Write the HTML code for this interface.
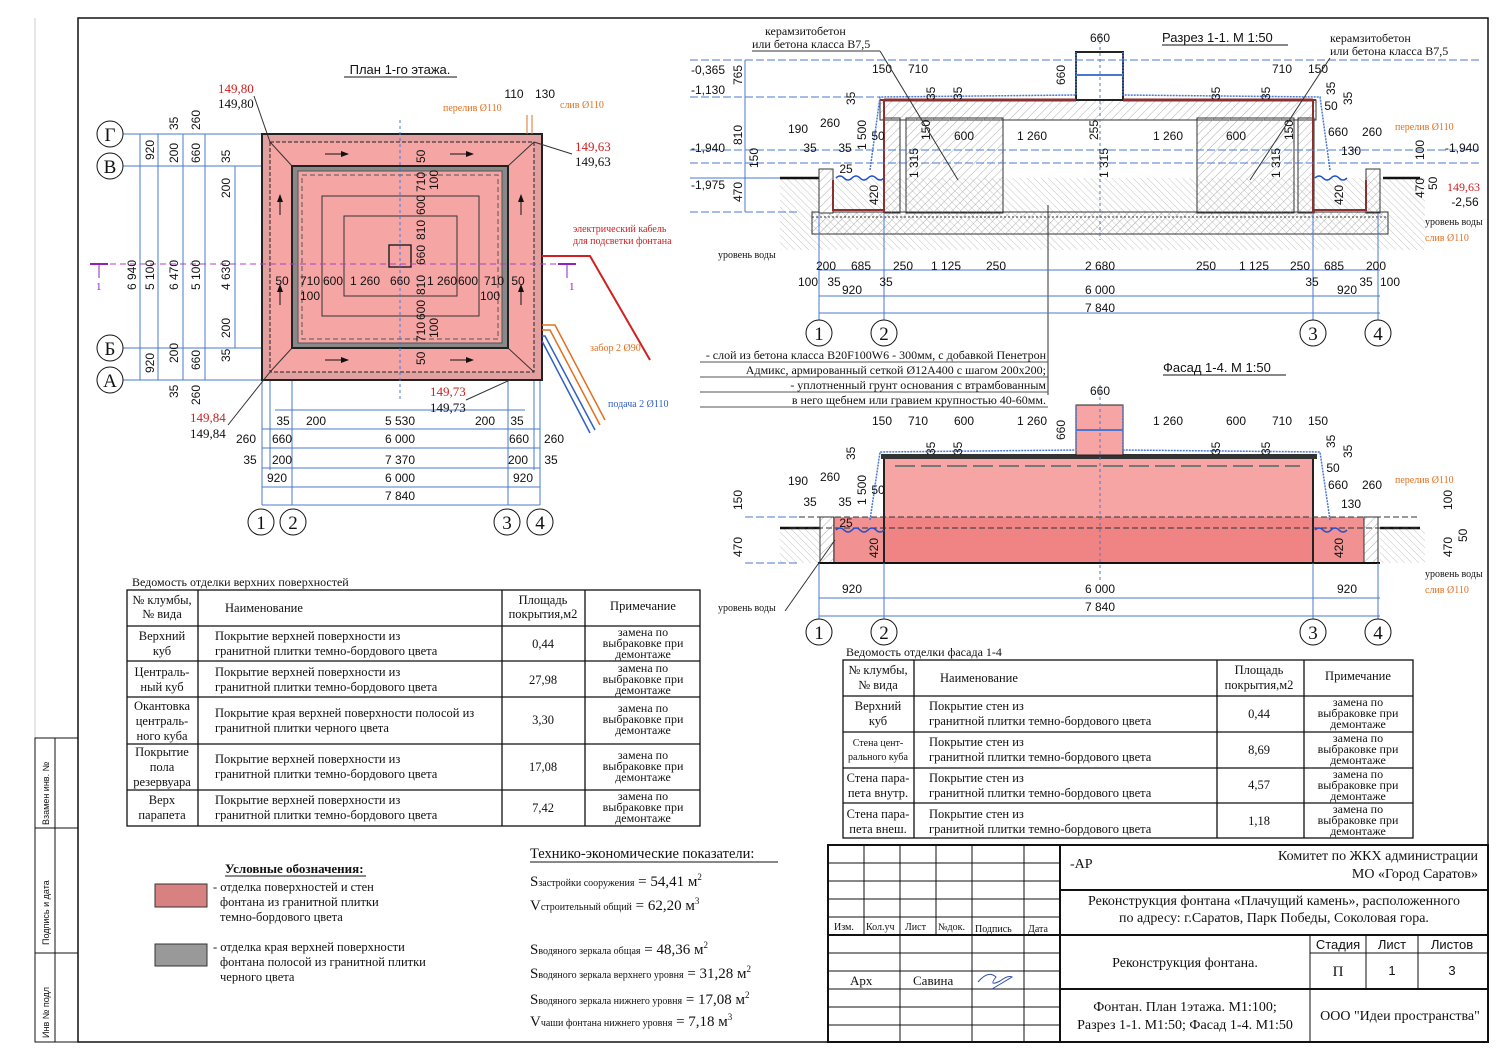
<!DOCTYPE html>
<html><head><meta charset="utf-8"><style>
html,body{margin:0;padding:0;background:#fff}
svg{display:block}
text{font-family:"Liberation Serif",serif;fill:#111}
.s,.s text{font-family:"Liberation Sans",sans-serif}
.d,.d text{font-family:"Liberation Sans",sans-serif;font-size:12px;fill:#111}
.b{stroke:#4a78d0;stroke-width:1;fill:none}
.k{stroke:#111;fill:none}
</style></head><body>
<svg width="1500" height="1060" viewBox="0 0 1500 1060" xmlns="http://www.w3.org/2000/svg">
<defs>
<marker id="ar" markerWidth="8" markerHeight="6" refX="7" refY="3" orient="auto"><path d="M0,0 L8,3 L0,6 z" fill="#111"/></marker>
<pattern id="hat" width="6" height="6" patternUnits="userSpaceOnUse" patternTransform="rotate(45)"><line x1="0" y1="0" x2="0" y2="6" stroke="#999" stroke-width="0.8"/></pattern>
<pattern id="hat2" width="5" height="5" patternUnits="userSpaceOnUse" patternTransform="rotate(-45)"><line x1="0" y1="0" x2="0" y2="5" stroke="#aaa" stroke-width="0.7"/></pattern>
</defs>
<!-- frame -->
<rect x="78" y="18" width="1410" height="1024" fill="none" stroke="#111" stroke-width="1.5"/>
<line x1="35" y1="18" x2="35" y2="738" stroke="#ccc"/>
<rect x="35" y="738" width="43" height="304" fill="none" stroke="#111"/>
<line x1="55" y1="738" x2="55" y2="1042" stroke="#111"/>
<line x1="35" y1="828" x2="78" y2="828" stroke="#111"/>
<line x1="35" y1="953" x2="78" y2="953" stroke="#111"/>
<text transform="translate(49,825) rotate(-90)" class="s" font-size="9">Взамен инв. №</text>
<text transform="translate(49,945) rotate(-90)" class="s" font-size="9">Подпись и дата</text>
<text transform="translate(49,1038) rotate(-90)" class="s" font-size="9">Инв № подл</text>

<!-- ============ PLAN ============ -->
<text x="400" y="74" font-size="13" text-anchor="middle" class="s">План 1-го этажа.</text>
<line x1="344" y1="77" x2="457" y2="77" stroke="#111"/>
<g class="b">
<line x1="110" y1="134" x2="262" y2="134"/><line x1="110" y1="166" x2="292" y2="166"/>
<line x1="110" y1="348" x2="292" y2="348"/><line x1="110" y1="380" x2="262" y2="380"/>
<line x1="262" y1="380" x2="262" y2="505"/><line x1="292" y1="348" x2="292" y2="505"/>
<line x1="508" y1="348" x2="508" y2="505"/><line x1="540" y1="380" x2="540" y2="505"/>
<line x1="270" y1="380" x2="270" y2="470"/><line x1="534" y1="380" x2="534" y2="470"/>
<line x1="140" y1="134" x2="140" y2="380"/><line x1="158" y1="134" x2="158" y2="380"/>
<line x1="183" y1="134" x2="183" y2="380"/><line x1="205" y1="134" x2="205" y2="380"/>
<line x1="235" y1="166" x2="235" y2="348"/>
<line x1="262" y1="429" x2="540" y2="429"/><line x1="262" y1="448" x2="540" y2="448"/>
<line x1="262" y1="468" x2="540" y2="468"/><line x1="262" y1="487" x2="540" y2="487"/>
<line x1="262" y1="505" x2="540" y2="505"/><line x1="275" y1="410" x2="525" y2="410"/>
</g>
<rect x="262" y="134" width="280" height="246" fill="#e3a0a0" stroke="#222" stroke-width="2"/>
<rect x="270" y="142" width="264" height="230" fill="#f6a5a5" stroke="#222" stroke-dasharray="4,2"/>
<line x1="270" y1="142" x2="292" y2="166" stroke="#333"/><line x1="534" y1="142" x2="508" y2="166" stroke="#333"/>
<line x1="270" y1="372" x2="292" y2="348" stroke="#333"/><line x1="534" y1="372" x2="508" y2="348" stroke="#333"/>
<rect x="292" y="166" width="216" height="182" fill="#888" stroke="#222" stroke-width="2"/>
<rect x="298" y="171" width="204" height="172" fill="#f6a5a5" stroke="#555"/>
<rect x="302" y="175" width="196" height="164" fill="none" stroke="#555" stroke-dasharray="5,3"/>
<rect x="322" y="196" width="157" height="120" fill="none" stroke="#333"/>
<rect x="344" y="216" width="113" height="80" fill="none" stroke="#333"/>
<rect x="389" y="245" width="22" height="22" fill="none" stroke="#111" stroke-width="1.3"/>
<line x1="400" y1="120" x2="400" y2="400" stroke="#4a78d0" stroke-dasharray="3,3"/>
<line x1="90" y1="264" x2="580" y2="264" stroke="#b040c0" stroke-dasharray="6,4"/>
<g stroke="#111" marker-end="url(#ar)"><line x1="325" y1="154" x2="348" y2="154"/><line x1="450" y1="154" x2="473" y2="154"/>
<line x1="325" y1="360" x2="348" y2="360"/><line x1="450" y1="360" x2="473" y2="360"/>
<line x1="280" y1="215" x2="280" y2="195"/><line x1="280" y1="305" x2="280" y2="285"/>
<line x1="521" y1="215" x2="521" y2="195"/><line x1="521" y1="305" x2="521" y2="285"/></g>
<g stroke="#9020c0" stroke-width="2"><line x1="90" y1="264" x2="108" y2="264"/><line x1="558" y1="264" x2="576" y2="264"/>
<line x1="99" y1="264" x2="99" y2="278" stroke-width="1"/><line x1="567" y1="264" x2="567" y2="278" stroke-width="1"/></g>
<text x="96" y="290" font-size="11" style="fill:#9020c0">1</text>
<text x="569" y="290" font-size="11" style="fill:#9020c0">1</text>
<g fill="#fff" stroke="#111">
<circle cx="110" cy="134" r="13"/><circle cx="110" cy="166" r="13"/><circle cx="110" cy="348" r="13"/><circle cx="110" cy="380" r="13"/>
<circle cx="261" cy="522" r="13"/><circle cx="293" cy="522" r="13"/><circle cx="507" cy="522" r="13"/><circle cx="540" cy="522" r="13"/></g>
<g font-size="19" text-anchor="middle"><text x="110" y="141">Г</text><text x="110" y="173">В</text><text x="110" y="355">Б</text><text x="110" y="387">А</text>
<text x="261" y="529">1</text><text x="293" y="529">2</text><text x="507" y="529">3</text><text x="540" y="529">4</text></g>
<g class="d" text-anchor="middle">
<text x="283" y="425">35</text><text x="316" y="425">200</text><text x="400" y="425">5 530</text><text x="485" y="425">200</text><text x="517" y="425">35</text>
<text x="246" y="443">260</text><text x="282" y="443">660</text><text x="400" y="443">6 000</text><text x="519" y="443">660</text><text x="554" y="443">260</text>
<text x="250" y="464">35</text><text x="282" y="464">200</text><text x="400" y="464">7 370</text><text x="518" y="464">200</text><text x="551" y="464">35</text>
<text x="277" y="482">920</text><text x="400" y="482">6 000</text><text x="523" y="482">920</text>
<text x="400" y="500">7 840</text>
<text x="282" y="285">50</text><text x="310" y="285">710</text><text x="333" y="285">600</text><text x="365" y="285">1 260</text><text x="400" y="285">660</text><text x="442" y="285">1 260</text><text x="468" y="285">600</text><text x="494" y="285">710</text><text x="518" y="285">50</text>
<text x="310" y="300">100</text><text x="490" y="300">100</text>
<text x="514" y="98">110</text><text x="545" y="98">130</text>
</g>
<g class="d">
<text transform="translate(136,290) rotate(-90)">6 940</text><text transform="translate(154,290) rotate(-90)">5 100</text>
<text transform="translate(178,290) rotate(-90)">6 470</text><text transform="translate(200,290) rotate(-90)">5 100</text>
<text transform="translate(230,290) rotate(-90)">4 630</text>
<text transform="translate(154,160) rotate(-90)">920</text><text transform="translate(154,373) rotate(-90)">920</text>
<text transform="translate(178,130) rotate(-90)">35</text><text transform="translate(178,163) rotate(-90)">200</text>
<text transform="translate(178,363) rotate(-90)">200</text><text transform="translate(178,398) rotate(-90)">35</text>
<text transform="translate(200,130) rotate(-90)">260</text><text transform="translate(200,163) rotate(-90)">660</text>
<text transform="translate(200,370) rotate(-90)">660</text><text transform="translate(200,405) rotate(-90)">260</text>
<text transform="translate(230,163) rotate(-90)">35</text><text transform="translate(230,198) rotate(-90)">200</text>
<text transform="translate(230,338) rotate(-90)">200</text><text transform="translate(230,362) rotate(-90)">35</text>
<text transform="translate(425,163) rotate(-90)">50</text><text transform="translate(425,192) rotate(-90)">710</text><text transform="translate(438,190) rotate(-90)">100</text>
<text transform="translate(425,215) rotate(-90)">600</text><text transform="translate(425,240) rotate(-90)">810</text><text transform="translate(425,265) rotate(-90)">660</text>
<text transform="translate(425,295) rotate(-90)">810</text><text transform="translate(425,320) rotate(-90)">600</text><text transform="translate(425,342) rotate(-90)">710</text><text transform="translate(438,338) rotate(-90)">100</text><text transform="translate(425,365) rotate(-90)">50</text>
</g>
<g font-size="13"><text x="218" y="93" style="fill:#d02020">149,80</text><text x="218" y="108">149,80</text>
<text x="575" y="151" style="fill:#d02020">149,63</text><text x="575" y="166">149,63</text>
<text x="430" y="396" style="fill:#d02020">149,73</text><text x="430" y="412">149,73</text>
<text x="190" y="422" style="fill:#d02020">149,84</text><text x="190" y="438">149,84</text></g>
<g stroke="#333" fill="none"><line x1="254" y1="96" x2="270" y2="142"/><line x1="572" y1="154" x2="534" y2="142"/><line x1="466" y1="400" x2="510" y2="380"/><line x1="228" y1="425" x2="270" y2="372"/></g>
<g font-size="10"><text x="443" y="111" style="fill:#e07020">перелив Ø110</text><text x="560" y="108" style="fill:#e07020">слив Ø110</text>
<text x="573" y="232" style="fill:#d02020">электрический кабель</text><text x="573" y="244" style="fill:#d02020">для подсветки фонтана</text>
<text x="590" y="351" style="fill:#e07020">забор 2 Ø90</text><text x="608" y="407" style="fill:#3060c0">подача 2 Ø110</text></g>
<polyline points="542,256 590,256 650,360" stroke="#d02020" stroke-width="2" fill="none"/>
<g fill="none" stroke-width="1.5"><polyline points="542,325 555,325 605,420" stroke="#e07020"/><polyline points="542,330 550,330 600,425" stroke="#e07020"/>
<polyline points="542,336 545,336 595,430" stroke="#3060c0"/><polyline points="542,341 542,341 590,433" stroke="#3060c0"/></g>
<line x1="527" y1="115" x2="527" y2="134" stroke="#e07020"/><line x1="532" y1="115" x2="532" y2="134" stroke="#e07020"/>

<!-- ============ TABLE 1 ============ -->
<text x="132" y="586" font-size="12">Ведомость отделки верхних поверхностей</text>
<g stroke="#111" stroke-width="1.3" fill="none">
<rect x="127" y="590" width="573" height="236"/>
<line x1="127" y1="626" x2="700" y2="626"/><line x1="127" y1="661" x2="700" y2="661"/><line x1="127" y1="697" x2="700" y2="697"/><line x1="127" y1="744" x2="700" y2="744"/><line x1="127" y1="790" x2="700" y2="790"/>
<line x1="198" y1="590" x2="198" y2="826"/><line x1="502" y1="590" x2="502" y2="826"/><line x1="585" y1="590" x2="585" y2="826"/></g>
<g font-size="12.5">
<text x="162" y="604" text-anchor="middle">№ клумбы,</text><text x="162" y="618" text-anchor="middle">№ вида</text>
<text x="225" y="612">Наименование</text><text x="543" y="604" text-anchor="middle">Площадь</text><text x="543" y="618" text-anchor="middle">покрытия,м2</text><text x="643" y="610" text-anchor="middle">Примечание</text>
<text x="162" y="640" text-anchor="middle">Верхний</text><text x="162" y="655" text-anchor="middle">куб</text>
<text x="215" y="640">Покрытие верхней поверхности из</text><text x="215" y="655">гранитной плитки темно-бордового цвета</text><text x="543" y="648" text-anchor="middle">0,44</text>
<text x="162" y="676" text-anchor="middle">Централь-</text><text x="162" y="691" text-anchor="middle">ный куб</text>
<text x="215" y="676">Покрытие верхней поверхности из</text><text x="215" y="691">гранитной плитки темно-бордового цвета</text><text x="543" y="684" text-anchor="middle">27,98</text>
<text x="162" y="710" text-anchor="middle">Окантовка</text><text x="162" y="725" text-anchor="middle">централь-</text><text x="162" y="740" text-anchor="middle">ного куба</text>
<text x="215" y="717">Покрытие края верхней поверхности полосой из</text><text x="215" y="732">гранитной плитки черного цвета</text><text x="543" y="724" text-anchor="middle">3,30</text>
<text x="162" y="756" text-anchor="middle">Покрытие</text><text x="162" y="771" text-anchor="middle">пола</text><text x="162" y="786" text-anchor="middle">резервуара</text>
<text x="215" y="763">Покрытие верхней поверхности из</text><text x="215" y="778">гранитной плитки темно-бордового цвета</text><text x="543" y="771" text-anchor="middle">17,08</text>
<text x="162" y="804" text-anchor="middle">Верх</text><text x="162" y="819" text-anchor="middle">парапета</text>
<text x="215" y="804">Покрытие верхней поверхности из</text><text x="215" y="819">гранитной плитки темно-бордового цвета</text><text x="543" y="812" text-anchor="middle">7,42</text>
</g>
<g font-size="12" text-anchor="middle">
<text x="643" y="636">замена по</text><text x="643" y="647">выбраковке при</text><text x="643" y="658">демонтаже</text>
<text x="643" y="672">замена по</text><text x="643" y="683">выбраковке при</text><text x="643" y="694">демонтаже</text>
<text x="643" y="712">замена по</text><text x="643" y="723">выбраковке при</text><text x="643" y="734">демонтаже</text>
<text x="643" y="759">замена по</text><text x="643" y="770">выбраковке при</text><text x="643" y="781">демонтаже</text>
<text x="643" y="800">замена по</text><text x="643" y="811">выбраковке при</text><text x="643" y="822">демонтаже</text>
</g>

<!-- legend -->
<text x="225" y="873" font-size="13" font-weight="bold">Условные обозначения:</text>
<line x1="225" y1="876" x2="366" y2="876" stroke="#111"/>
<rect x="155" y="884" width="52" height="23" fill="#d98080" stroke="#333"/>
<rect x="155" y="944" width="52" height="22" fill="#999" stroke="#333"/>
<g font-size="12.5"><text x="213" y="891">- отделка поверхностей и стен</text><text x="220" y="906">фонтана из гранитной плитки</text><text x="220" y="921">темно-бордового цвета</text>
<text x="213" y="951">- отделка края верхней поверхности</text><text x="220" y="966">фонтана полосой из гранитной плитки</text><text x="220" y="981">черного цвета</text></g>

<!-- TEP -->
<text x="530" y="858" font-size="14.5">Технико-экономические показатели:</text>
<line x1="530" y1="862" x2="778" y2="862" stroke="#111"/>
<g font-size="15">
<text x="530" y="886">S<tspan font-size="10">застройки сооружения</tspan> = 54,41 м<tspan font-size="9" dy="-6">2</tspan></text>
<text x="530" y="910">V<tspan font-size="10">строительный общий</tspan> = 62,20 м<tspan font-size="9" dy="-6">3</tspan></text>
<text x="530" y="954">S<tspan font-size="10">водяного зеркала общая</tspan> = 48,36 м<tspan font-size="9" dy="-6">2</tspan></text>
<text x="530" y="978">S<tspan font-size="10">водяного зеркала верхнего уровня</tspan> = 31,28 м<tspan font-size="9" dy="-6">2</tspan></text>
<text x="530" y="1004">S<tspan font-size="10">водяного зеркала нижнего уровня</tspan> = 17,08 м<tspan font-size="9" dy="-6">2</tspan></text>
<text x="530" y="1026">V<tspan font-size="10">чаши фонтана нижнего уровня</tspan> = 7,18 м<tspan font-size="9" dy="-6">3</tspan></text>
</g>

<!-- ============ SECTION 1-1 ============ -->
<text x="1162" y="42" font-size="13" class="s">Разрез 1-1. М 1:50</text><line x1="1162" y1="45" x2="1288" y2="45" stroke="#111"/>
<rect x="780" y="178" width="645" height="72" fill="url(#hat2)"/>
<line x1="780" y1="178" x2="820" y2="178" stroke="#111" stroke-width="2.5"/><line x1="1383" y1="178" x2="1420" y2="178" stroke="#111" stroke-width="2.5"/>
<rect x="812" y="212" width="576" height="22" fill="url(#hat)" stroke="#333"/>
<line x1="812" y1="217" x2="1388" y2="217" stroke="#333" stroke-dasharray="2,2"/>
<rect x="819" y="169" width="14" height="44" fill="#fff" stroke="#333"/><rect x="819" y="169" width="14" height="44" fill="url(#hat)"/>
<rect x="1366" y="169" width="14" height="44" fill="url(#hat)" stroke="#333"/>
<polyline points="833,180 833,210 884,210" fill="none" stroke="#8b3030" stroke-width="2"/>
<polyline points="1366,180 1366,210 1313,210" fill="none" stroke="#8b3030" stroke-width="2"/>
<rect x="880" y="100" width="436" height="20" fill="url(#hat)" stroke="#333"/>
<rect x="884" y="118" width="16" height="95" fill="url(#hat)" stroke="#333"/>
<rect x="1298" y="118" width="16" height="95" fill="url(#hat)" stroke="#333"/>
<rect x="906" y="118" width="97" height="95" fill="url(#hat)" stroke="#333"/>
<rect x="1197" y="118" width="97" height="95" fill="url(#hat)" stroke="#333"/>
<rect x="1076" y="52" width="47" height="48" fill="#fff" stroke="#222" stroke-width="2"/>
<line x1="1076" y1="75" x2="1123" y2="75" stroke="#4a78d0" stroke-width="2"/>
<polyline points="880,100 884,100 884,213" fill="none" stroke="#8b3030" stroke-width="2"/>
<polyline points="1316,100 1313,100 1313,213" fill="none" stroke="#8b3030" stroke-width="2"/>
<line x1="884" y1="100" x2="1076" y2="100" stroke="#8b3030" stroke-width="3"/><line x1="1123" y1="100" x2="1313" y2="100" stroke="#8b3030" stroke-width="3"/>
<polyline points="870,170 880,97 1076,95 1076,52" fill="none" stroke="#4a78d0" stroke-width="1.5" stroke-dasharray="2,1"/>
<polyline points="1330,170 1320,97 1123,95 1123,52" fill="none" stroke="#4a78d0" stroke-width="1.5" stroke-dasharray="2,1"/>
<path d="M836,178 q4,-4 8,0 t8,0 t8,0 t8,0 t8,0 t8,0" fill="none" stroke="#2050d0" stroke-width="1.5"/>
<path d="M1315,178 q4,-4 8,0 t8,0 t8,0 t8,0" fill="none" stroke="#2050d0" stroke-width="1.5"/>
<line x1="1100" y1="35" x2="1100" y2="240" stroke="#4a78d0" stroke-dasharray="3,3"/>
<line x1="1048" y1="205" x2="1048" y2="395" stroke="#333"/>
<g class="b"><line x1="690" y1="60" x2="1480" y2="60" stroke-dasharray="8,3"/><line x1="690" y1="97" x2="880" y2="97" stroke-dasharray="8,3"/>
<line x1="690" y1="150" x2="1480" y2="150" stroke-dasharray="8,3"/><line x1="690" y1="163" x2="1480" y2="163" stroke-dasharray="8,3"/>
<line x1="690" y1="178" x2="780" y2="178"/><line x1="690" y1="212" x2="800" y2="212" stroke-dasharray="8,3"/>
<line x1="745" y1="60" x2="745" y2="212"/>
<line x1="819" y1="270" x2="1380" y2="270"/><line x1="819" y1="296" x2="1380" y2="296"/><line x1="819" y1="313" x2="1380" y2="313"/>
<line x1="819" y1="213" x2="819" y2="320"/><line x1="884" y1="213" x2="884" y2="320"/><line x1="1313" y1="213" x2="1313" y2="320"/><line x1="1378" y1="213" x2="1378" y2="320"/></g>
<g class="d" text-anchor="middle">
<text x="1100" y="42">660</text><text x="882" y="73">150</text><text x="918" y="73">710</text><text x="1282" y="73">710</text><text x="1318" y="73">150</text>
<text x="964" y="140">600</text><text x="1032" y="140">1 260</text><text x="1168" y="140">1 260</text><text x="1236" y="140">600</text>
<text x="798" y="133">190</text><text x="830" y="127">260</text><text x="810" y="152">35</text><text x="845" y="152">35</text><text x="878" y="140">50</text><text x="1331" y="110">50</text>
<text x="1338" y="136">660</text><text x="1372" y="136">260</text><text x="1351" y="155">130</text><text x="846" y="173">25</text>
<text x="826" y="270">200</text><text x="861" y="270">685</text><text x="903" y="270">250</text><text x="946" y="270">1 125</text><text x="996" y="270">250</text><text x="1100" y="270">2 680</text><text x="1206" y="270">250</text><text x="1254" y="270">1 125</text><text x="1300" y="270">250</text><text x="1334" y="270">685</text><text x="1376" y="270">200</text>
<text x="808" y="286">100</text><text x="834" y="286">35</text><text x="886" y="286">35</text><text x="852" y="294">920</text><text x="1100" y="294">6 000</text><text x="1312" y="286">35</text><text x="1366" y="286">35</text><text x="1390" y="286">100</text><text x="1347" y="294">920</text>
<text x="1100" y="312">7 840</text>
<text x="708" y="74">-0,365</text><text x="708" y="94">-1,130</text><text x="708" y="152">-1,940</text><text x="708" y="189">-1,975</text>
<text x="1462" y="152">-1,940</text><text x="1465" y="206">-2,56</text>
</g>
<text x="1447" y="191" font-size="12" style="fill:#d02020">149,63</text>
<g class="d"><text transform="translate(742,85) rotate(-90)">765</text><text transform="translate(742,145) rotate(-90)">810</text><text transform="translate(758,168) rotate(-90)">150</text><text transform="translate(742,202) rotate(-90)">470</text>
<text transform="translate(1065,85) rotate(-90)">660</text><text transform="translate(1098,140) rotate(-90)">255</text><text transform="translate(855,105) rotate(-90)">35</text><text transform="translate(935,100) rotate(-90)">35</text><text transform="translate(962,100) rotate(-90)">35</text>
<text transform="translate(1220,100) rotate(-90)">35</text><text transform="translate(1270,100) rotate(-90)">35</text><text transform="translate(1335,95) rotate(-90)">35</text><text transform="translate(1352,105) rotate(-90)">35</text>
<text transform="translate(866,150) rotate(-90)">1 500</text><text transform="translate(918,178) rotate(-90)">1 315</text><text transform="translate(1108,178) rotate(-90)">1 315</text><text transform="translate(1280,178) rotate(-90)">1 315</text>
<text transform="translate(930,140) rotate(-90)">150</text><text transform="translate(1293,140) rotate(-90)">150</text><text transform="translate(878,205) rotate(-90)">420</text><text transform="translate(1343,205) rotate(-90)">420</text>
<text transform="translate(1424,160) rotate(-90)">100</text><text transform="translate(1424,198) rotate(-90)">470</text><text transform="translate(1437,190) rotate(-90)">50</text></g>
<g font-size="12"><text x="765" y="35">керамзитобетон</text><text x="752" y="48">или бетона класса В7,5</text>
<text x="1330" y="42">керамзитобетон</text><text x="1330" y="55">или бетона класса В7,5</text></g>
<line x1="752" y1="51" x2="880" y2="51" stroke="#333"/><line x1="880" y1="51" x2="958" y2="180" stroke="#333"/>
<line x1="1330" y1="58" x2="1250" y2="180" stroke="#333"/>
<g font-size="10"><text x="718" y="258">уровень воды</text><text x="1425" y="225">уровень воды</text><text x="1425" y="241" style="fill:#e07020">слив Ø110</text><text x="1395" y="130" style="fill:#e07020">перелив Ø110</text></g>
<g fill="#fff" stroke="#111"><circle cx="819" cy="333" r="13"/><circle cx="884" cy="333" r="13"/><circle cx="1313" cy="333" r="13"/><circle cx="1378" cy="333" r="13"/></g>
<g font-size="19" text-anchor="middle"><text x="819" y="340">1</text><text x="884" y="340">2</text><text x="1313" y="340">3</text><text x="1378" y="340">4</text></g>

<g font-size="12" text-anchor="end"><text x="1046" y="359">- слой из бетона класса В20F100W6 - 300мм, с добавкой Пенетрон</text>
<text x="1046" y="374">Адмикс, армированный сеткой Ø12А400 с шагом 200х200;</text>
<text x="1046" y="389">- уплотненный грунт основания с втрамбованным</text>
<text x="1046" y="404">в него щебнем или гравием крупностью 40-60мм.</text></g>
<g stroke="#555"><line x1="700" y1="362" x2="1048" y2="362"/><line x1="700" y1="377" x2="1048" y2="377"/><line x1="700" y1="392" x2="1048" y2="392"/><line x1="700" y1="407" x2="1048" y2="407"/></g>

<!-- ============ FACADE ============ -->
<text x="1163" y="372" font-size="13" class="s">Фасад 1-4. М 1:50</text><line x1="1163" y1="375" x2="1286" y2="375" stroke="#111"/>
<rect x="780" y="528" width="40" height="35" fill="url(#hat2)"/><rect x="1380" y="528" width="45" height="35" fill="url(#hat2)"/>
<line x1="780" y1="528" x2="820" y2="528" stroke="#111" stroke-width="2.5"/><line x1="1380" y1="528" x2="1420" y2="528" stroke="#111" stroke-width="2.5"/>
<rect x="884" y="455" width="429" height="108" fill="#f7a4a4" stroke="#222"/>
<rect x="833" y="517" width="531" height="46" fill="#ef7e7e" opacity="0.85"/>
<rect x="820" y="517" width="14" height="46" fill="url(#hat)" stroke="#333"/><rect x="1364" y="517" width="14" height="46" fill="url(#hat)" stroke="#333"/>
<line x1="884" y1="455" x2="884" y2="563" stroke="#222" stroke-width="2"/><line x1="1313" y1="455" x2="1313" y2="563" stroke="#222" stroke-width="2"/>
<rect x="881" y="454" width="436" height="5" fill="#333"/>
<rect x="1076" y="405" width="47" height="50" fill="#f7a4a4" stroke="#222"/>
<line x1="1076" y1="430" x2="1123" y2="430" stroke="#4a78d0" stroke-width="2"/>
<line x1="818" y1="563" x2="1380" y2="563" stroke="#111" stroke-width="2"/>
<g stroke="#777" stroke-width="2" stroke-dasharray="20,6"><line x1="895" y1="466" x2="1300" y2="466"/></g>
<line x1="790" y1="517" x2="1420" y2="517" stroke="#333" stroke-dasharray="6,3"/>
<line x1="790" y1="528" x2="1420" y2="528" stroke="#333" stroke-dasharray="6,3"/>
<polyline points="870,520 880,452 1076,450 1076,405" fill="none" stroke="#4a78d0" stroke-width="1.5" stroke-dasharray="2,1"/>
<polyline points="1330,520 1320,452 1123,450 1123,405" fill="none" stroke="#4a78d0" stroke-width="1.5" stroke-dasharray="2,1"/>
<path d="M836,530 q4,-4 8,0 t8,0 t8,0 t8,0 t8,0 t8,0" fill="none" stroke="#2050d0" stroke-width="1.5"/>
<path d="M1315,530 q4,-4 8,0 t8,0 t8,0 t8,0" fill="none" stroke="#2050d0" stroke-width="1.5"/>
<line x1="1100" y1="385" x2="1100" y2="580" stroke="#4a78d0" stroke-dasharray="3,3"/>
<g class="b"><line x1="819" y1="598" x2="1380" y2="598"/><line x1="819" y1="616" x2="1380" y2="616"/>
<line x1="819" y1="563" x2="819" y2="620"/><line x1="884" y1="563" x2="884" y2="620"/><line x1="1313" y1="563" x2="1313" y2="620"/><line x1="1378" y1="563" x2="1378" y2="620"/>
<line x1="745" y1="517" x2="800" y2="517" stroke-dasharray="8,3"/><line x1="745" y1="563" x2="800" y2="563" stroke-dasharray="8,3"/></g>
<g class="d" text-anchor="middle">
<text x="1100" y="395">660</text><text x="882" y="425">150</text><text x="918" y="425">710</text><text x="964" y="425">600</text><text x="1032" y="425">1 260</text><text x="1168" y="425">1 260</text><text x="1236" y="425">600</text><text x="1282" y="425">710</text><text x="1318" y="425">150</text>
<text x="798" y="485">190</text><text x="830" y="481">260</text><text x="810" y="506">35</text><text x="845" y="506">35</text><text x="878" y="494">50</text><text x="1333" y="472">50</text><text x="1338" y="489">660</text><text x="1372" y="489">260</text><text x="1351" y="508">130</text><text x="846" y="527">25</text>
<text x="852" y="593">920</text><text x="1100" y="593">6 000</text><text x="1347" y="593">920</text><text x="1100" y="611">7 840</text></g>
<g class="d"><text transform="translate(742,510) rotate(-90)">150</text><text transform="translate(742,557) rotate(-90)">470</text><text transform="translate(866,505) rotate(-90)">1 500</text>
<text transform="translate(878,558) rotate(-90)">420</text><text transform="translate(1343,558) rotate(-90)">420</text><text transform="translate(1065,440) rotate(-90)">660</text>
<text transform="translate(1452,510) rotate(-90)">100</text><text transform="translate(1452,557) rotate(-90)">470</text><text transform="translate(1467,542) rotate(-90)">50</text>
<text transform="translate(855,460) rotate(-90)">35</text><text transform="translate(935,455) rotate(-90)">35</text><text transform="translate(962,455) rotate(-90)">35</text><text transform="translate(1220,455) rotate(-90)">35</text><text transform="translate(1270,455) rotate(-90)">35</text><text transform="translate(1335,448) rotate(-90)">35</text><text transform="translate(1352,458) rotate(-90)">35</text></g>
<g font-size="10"><text x="718" y="611">уровень воды</text><text x="1425" y="577">уровень воды</text><text x="1425" y="593" style="fill:#e07020">слив Ø110</text><text x="1395" y="483" style="fill:#e07020">перелив Ø110</text></g>
<line x1="785" y1="611" x2="835" y2="540" stroke="#333"/>
<g fill="#fff" stroke="#111"><circle cx="819" cy="632" r="13"/><circle cx="884" cy="632" r="13"/><circle cx="1313" cy="632" r="13"/><circle cx="1378" cy="632" r="13"/></g>
<g font-size="19" text-anchor="middle"><text x="819" y="639">1</text><text x="884" y="639">2</text><text x="1313" y="639">3</text><text x="1378" y="639">4</text></g>

<!-- ============ TABLE 2 ============ -->
<text x="846" y="656" font-size="12">Ведомость отделки фасада 1-4</text>
<g stroke="#111" stroke-width="1.3" fill="none">
<rect x="843" y="660" width="570" height="178"/>
<line x1="843" y1="696" x2="1413" y2="696"/><line x1="843" y1="732" x2="1413" y2="732"/><line x1="843" y1="768" x2="1413" y2="768"/><line x1="843" y1="803" x2="1413" y2="803"/>
<line x1="914" y1="660" x2="914" y2="838"/><line x1="1217" y1="660" x2="1217" y2="838"/><line x1="1304" y1="660" x2="1304" y2="838"/></g>
<g font-size="12.5">
<text x="878" y="674" text-anchor="middle">№ клумбы,</text><text x="878" y="689" text-anchor="middle">№ вида</text>
<text x="940" y="682">Наименование</text><text x="1259" y="674" text-anchor="middle">Площадь</text><text x="1259" y="689" text-anchor="middle">покрытия,м2</text><text x="1358" y="680" text-anchor="middle">Примечание</text>
<text x="878" y="710" text-anchor="middle">Верхний</text><text x="878" y="725" text-anchor="middle">куб</text>
<text x="929" y="710">Покрытие стен из</text><text x="929" y="725">гранитной плитки темно-бордового цвета</text><text x="1259" y="718" text-anchor="middle">0,44</text>
<text x="878" y="746" text-anchor="middle" font-size="10">Стена цент-</text><text x="878" y="760" text-anchor="middle" font-size="10">рального куба</text>
<text x="929" y="746">Покрытие стен из</text><text x="929" y="761">гранитной плитки темно-бордового цвета</text><text x="1259" y="754" text-anchor="middle">8,69</text>
<text x="878" y="782" text-anchor="middle">Стена пара-</text><text x="878" y="797" text-anchor="middle">пета внутр.</text>
<text x="929" y="782">Покрытие стен из</text><text x="929" y="797">гранитной плитки темно-бордового цвета</text><text x="1259" y="789" text-anchor="middle">4,57</text>
<text x="878" y="818" text-anchor="middle">Стена пара-</text><text x="878" y="833" text-anchor="middle">пета внеш.</text>
<text x="929" y="818">Покрытие стен из</text><text x="929" y="833">гранитной плитки темно-бордового цвета</text><text x="1259" y="825" text-anchor="middle">1,18</text>
</g>
<g font-size="12" text-anchor="middle">
<text x="1358" y="706">замена по</text><text x="1358" y="717">выбраковке при</text><text x="1358" y="728">демонтаже</text>
<text x="1358" y="742">замена по</text><text x="1358" y="753">выбраковке при</text><text x="1358" y="764">демонтаже</text>
<text x="1358" y="778">замена по</text><text x="1358" y="789">выбраковке при</text><text x="1358" y="800">демонтаже</text>
<text x="1358" y="813">замена по</text><text x="1358" y="824">выбраковке при</text><text x="1358" y="835">демонтаже</text>
</g>

<!-- ============ TITLE BLOCK ============ -->
<g stroke="#111" fill="none">
<rect x="828" y="845" width="660" height="197" stroke-width="2"/>
<line x1="1060" y1="845" x2="1060" y2="1042" stroke-width="2"/>
<g stroke-width="1">
<line x1="828" y1="863" x2="1060" y2="863"/><line x1="828" y1="881" x2="1060" y2="881"/><line x1="828" y1="899" x2="1060" y2="899"/><line x1="828" y1="917" x2="1060" y2="917"/>
<line x1="828" y1="953" x2="1060" y2="953"/><line x1="828" y1="971" x2="1060" y2="971"/><line x1="828" y1="989" x2="1060" y2="989"/><line x1="828" y1="1007" x2="1060" y2="1007"/><line x1="828" y1="1025" x2="1060" y2="1025"/>
<line x1="864" y1="845" x2="864" y2="935"/><line x1="900" y1="845" x2="900" y2="1042"/><line x1="936" y1="845" x2="936" y2="935"/><line x1="972" y1="845" x2="972" y2="1042"/><line x1="1024" y1="845" x2="1024" y2="1042"/>
<line x1="1310" y1="935" x2="1310" y2="1042"/><line x1="1366" y1="935" x2="1366" y2="989"/><line x1="1418" y1="935" x2="1418" y2="989"/><line x1="1310" y1="953" x2="1488" y2="953"/>
</g>
<line x1="828" y1="935" x2="1488" y2="935" stroke-width="2"/>
<line x1="1060" y1="890" x2="1488" y2="890" stroke-width="2"/><line x1="1060" y1="989" x2="1488" y2="989" stroke-width="2"/>
</g>
<g font-size="10"><text x="834" y="930">Изм.</text><text x="866" y="930">Кол.уч</text><text x="905" y="930">Лист</text><text x="938" y="930">№док.</text><text x="975" y="932">Подпись</text><text x="1028" y="932">Дата</text></g>
<g font-size="13"><text x="850" y="985">Арх</text><text x="913" y="985">Савина</text></g>
<path d="M978,982 q10,-12 18,-5 q-8,10 4,4 q8,-6 12,-4 l-20,12" fill="none" stroke="#3050b0"/>
<text x="1070" y="868" font-size="14">-АР</text>
<text x="1478" y="860" font-size="14" text-anchor="end">Комитет по ЖКХ администрации</text>
<text x="1478" y="878" font-size="14" text-anchor="end">МО «Город Саратов»</text>
<text x="1274" y="905" font-size="14" text-anchor="middle">Реконструкция фонтана «Плачущий камень», расположенного</text>
<text x="1274" y="922" font-size="14" text-anchor="middle">по адресу: г.Саратов, Парк Победы, Соколовая гора.</text>
<text x="1185" y="967" font-size="14" text-anchor="middle">Реконструкция фонтана.</text>
<g class="s" font-size="13" text-anchor="middle"><text x="1338" y="949">Стадия</text><text x="1392" y="949">Лист</text><text x="1452" y="949">Листов</text>
<text x="1392" y="975">1</text><text x="1452" y="975">3</text></g>
<text x="1338" y="976" font-size="15" text-anchor="middle">П</text>
<text x="1185" y="1011" font-size="14" text-anchor="middle">Фонтан. План 1этажа. М1:100;</text>
<text x="1185" y="1029" font-size="14" text-anchor="middle">Разрез 1-1. М1:50; Фасад 1-4. М1:50</text>
<text x="1400" y="1020" font-size="14" text-anchor="middle">ООО "Идеи пространства"</text>
</svg>
</body></html>
